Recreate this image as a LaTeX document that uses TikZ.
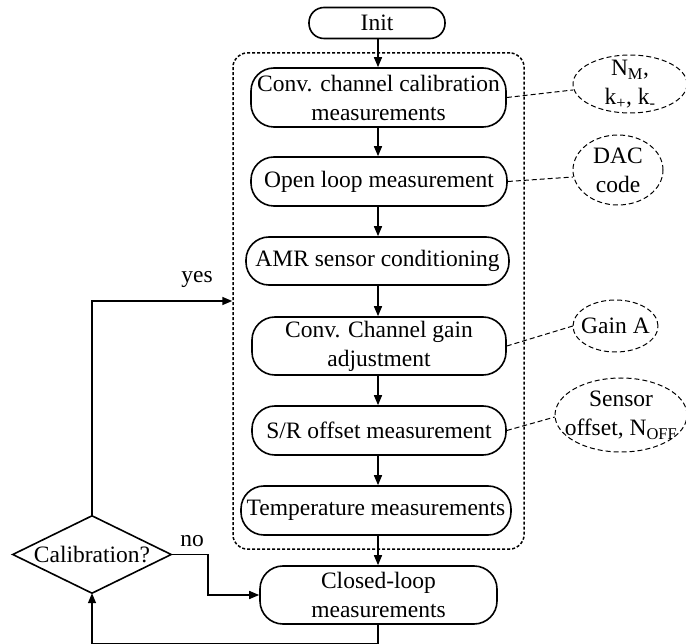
\documentclass[tikz,border=0pt]{standalone}
\usepackage{fontspec}
\setmainfont{Liberation Serif}
\usetikzlibrary{arrows.meta}
\begin{document}
\begin{tikzpicture}[x=1pt,y=-1pt,
  every node/.style={font=\fontsize{23.5}{29}\selectfont, align=center, inner sep=0pt},
  stepbox/.style={draw, line width=1.6pt, rounded corners=23pt},
  flow/.style={line width=1.5pt, -{Triangle[length=10pt,width=8pt]}},
  link/.style={line width=1pt, dash pattern=on 5pt off 3pt},
  ring/.style={line width=1pt, dash pattern=on 5pt off 3pt},
  frame/.style={draw, line width=1.5pt, dash pattern=on 3pt off 2pt, rounded corners=14pt}
]
\useasboundingbox (0,0) rectangle (686,644);

% dashed group around the calibration steps
\node[frame, minimum width=291pt, minimum height=496pt] (grp) at (378.5,301) {};

% process steps
\node[stepbox, rounded corners=15pt, minimum width=136pt, minimum height=31pt] (init) at (377,23) {Init};
\node[stepbox, minimum width=255pt, minimum height=59pt] (b1) at (378.5,97.5) {Conv. channel calibration\\measurements};
\node[stepbox, minimum width=256pt, minimum height=49pt] (b2) at (379,181.5) {Open loop measurement};
\node[stepbox, minimum width=263pt, minimum height=48pt] (b3) at (377.5,261) {AMR sensor conditioning};
\node[stepbox, minimum width=254pt, minimum height=58pt] (b4) at (379,346) {Conv. Channel gain\\adjustment};
\node[stepbox, minimum width=254pt, minimum height=49pt] (b5) at (379,430.5) {S/R offset measurement};
\node[stepbox, minimum width=270pt, minimum height=49pt] (b6) at (376,510.5) {Temperature measurements};
\node[stepbox, minimum width=237pt, minimum height=58pt] (b7) at (378.5,595) {Closed-loop\\measurements};

% decision
\node[minimum width=158pt, minimum height=77pt] (dec) at (92,554.5) {Calibration?};
\draw[line width=1.6pt] (dec.west) -- (dec.north) -- (dec.east) -- (dec.south) -- cycle;

% result annotations
\node[minimum width=114pt, minimum height=58pt] (e1) at (630,84) {N\textsubscript{M},\\k\textsubscript{+}, k\textsubscript{-}};
\node[minimum width=90pt, minimum height=70pt] (e2) at (618,170) {DAC\\code};
\node[minimum width=85pt, minimum height=52pt] (e3) at (615.5,326) {Gain A};
\node[minimum width=132pt, minimum height=74pt] (e4) at (621,415) {Sensor\\offset, N\textsubscript{OFF}};
\draw[ring] (e1.center) ellipse [x radius=57pt, y radius=29pt];
\draw[ring] (e2.center) ellipse [x radius=45pt, y radius=35pt];
\draw[ring] (e3.center) ellipse [x radius=42.5pt, y radius=26pt];
\draw[ring] (e4.center) ellipse [x radius=66pt, y radius=37pt];

\draw[link] (b1.east) -- ([yshift=-6pt]e1.west);
\draw[link] (b2.east) -- ([yshift=-7pt]e2.west);
\draw[link] (b4.east) -- (e3.west);
\draw[link] (b5.east) -- ([yshift=-2pt]e4.west);

% main flow, on one vertical axis
\coordinate (axis) at (378,0);
\draw[flow] (axis |- init.south) -- (axis |- b1.north);
\draw[flow] (axis |- b1.south) -- (axis |- b2.north);
\draw[flow] (axis |- b2.south) -- (axis |- b3.north);
\draw[flow] (axis |- b3.south) -- (axis |- b4.north);
\draw[flow] (axis |- b4.south) -- (axis |- b5.north);
\draw[flow] (axis |- b5.south) -- (axis |- b6.north);
\draw[flow] (axis |- b6.south) -- (axis |- b7.north);

% decision branches and loop back
\draw[flow] (dec.east) -- ++(37,0) |- (b7.west);
\node at (192,541) {no};
\draw[flow] (dec.north) |- (grp.west);
\node at (197,280) {yes};
\draw[flow] (axis |- b7.south) -- ++(0,19) -| (dec.south);
\end{tikzpicture}
\end{document}
